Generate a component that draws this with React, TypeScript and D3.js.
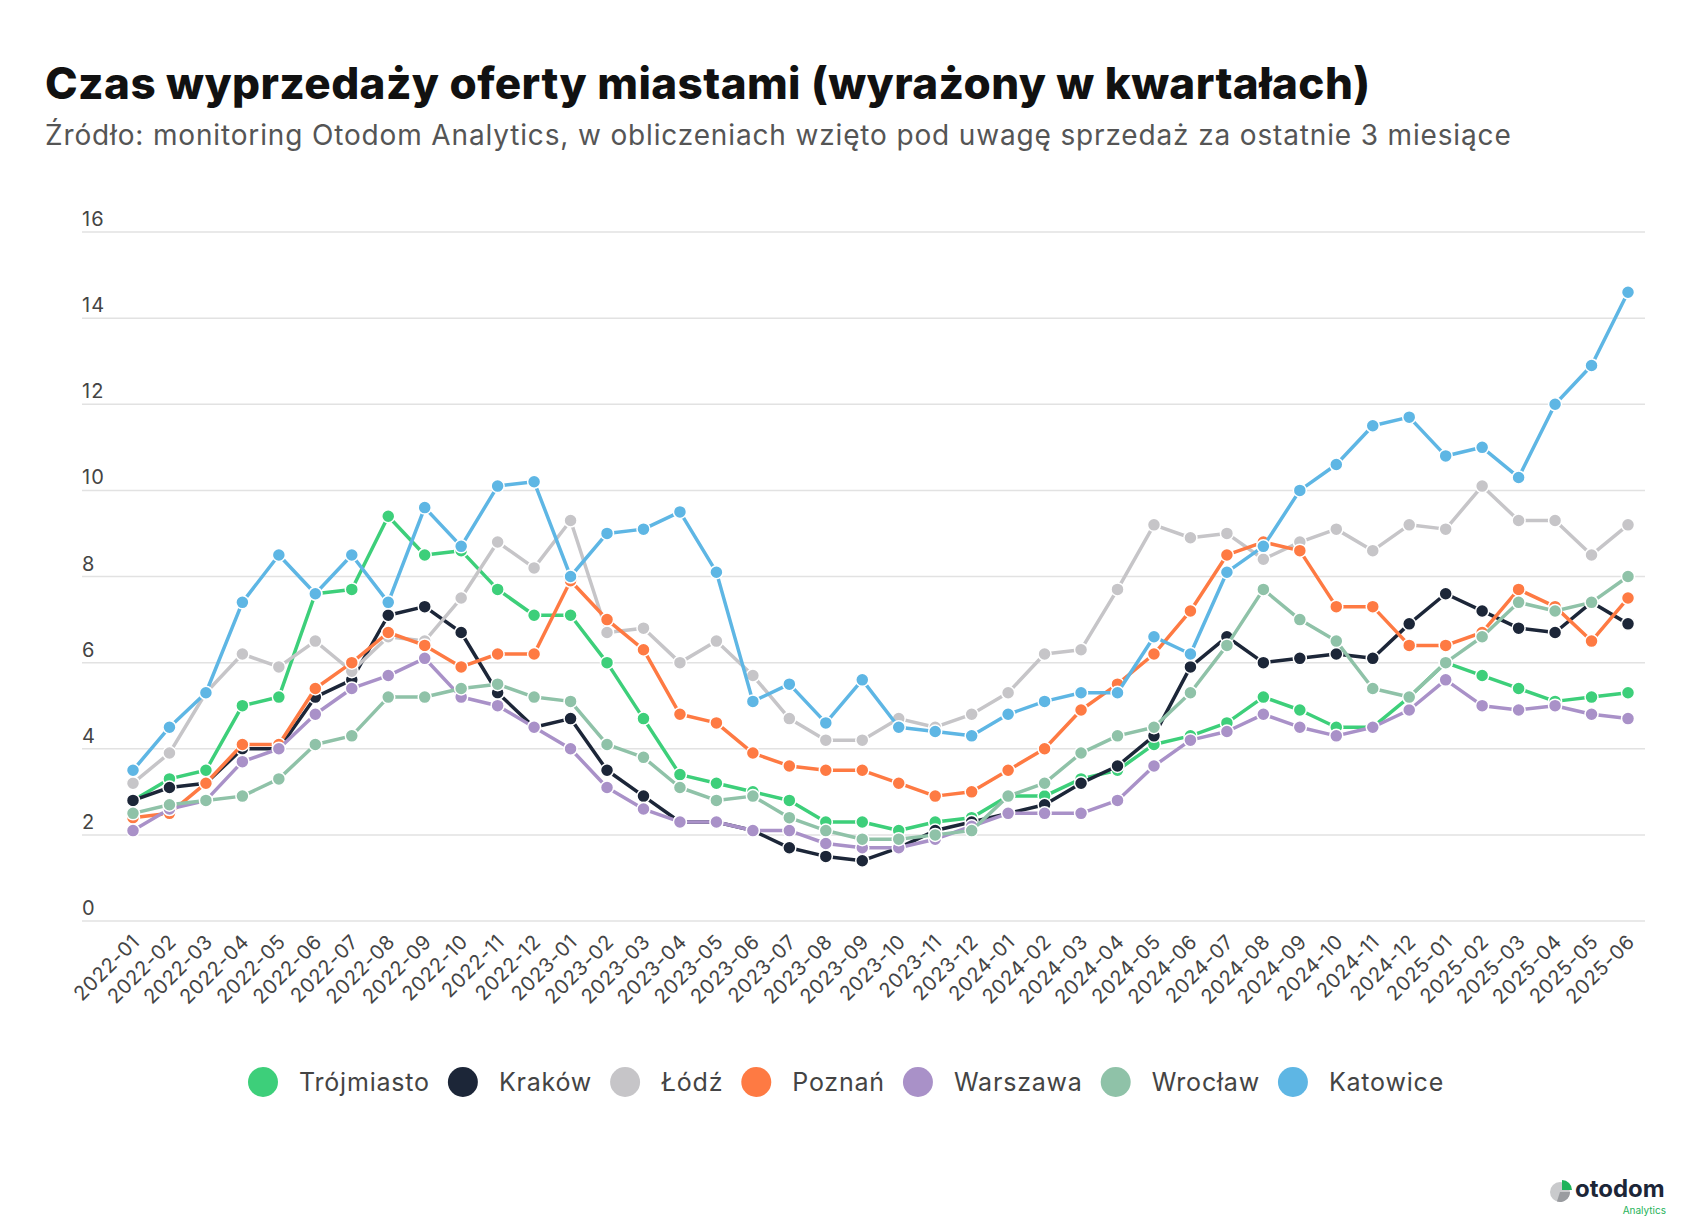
import { useEffect, useRef } from 'react';
import * as d3 from 'd3';

const months = [
  '2022-01', '2022-02', '2022-03', '2022-04', '2022-05', '2022-06', '2022-07', '2022-08', '2022-09', '2022-10', '2022-11', '2022-12',
  '2023-01', '2023-02', '2023-03', '2023-04', '2023-05', '2023-06', '2023-07', '2023-08', '2023-09', '2023-10', '2023-11', '2023-12',
  '2024-01', '2024-02', '2024-03', '2024-04', '2024-05', '2024-06', '2024-07', '2024-08', '2024-09', '2024-10', '2024-11', '2024-12',
  '2025-01', '2025-02', '2025-03', '2025-04', '2025-05', '2025-06',
];

const trojmiasto = [
  2.8, 3.3, 3.5, 5.0, 5.2, 7.6, 7.7, 9.4, 8.5, 8.6, 7.7, 7.1,
  7.1, 6.0, 4.7, 3.4, 3.2, 3.0, 2.8, 2.3, 2.3, 2.1, 2.3, 2.4,
  2.9, 2.9, 3.3, 3.5, 4.1, 4.3, 4.6, 5.2, 4.9, 4.5, 4.5, 5.2,
  6.0, 5.7, 5.4, 5.1, 5.2, 5.3,
];
const krakow = [
  2.8, 3.1, 3.2, 4.0, 4.0, 5.2, 5.6, 7.1, 7.3, 6.7, 5.3, 4.5,
  4.7, 3.5, 2.9, 2.3, 2.3, 2.1, 1.7, 1.5, 1.4, 1.7, 2.1, 2.3,
  2.5, 2.7, 3.2, 3.6, 4.3, 5.9, 6.6, 6.0, 6.1, 6.2, 6.1, 6.9,
  7.6, 7.2, 6.8, 6.7, 7.4, 6.9,
];
const lodz = [
  3.2, 3.9, 5.3, 6.2, 5.9, 6.5, 5.8, 6.6, 6.5, 7.5, 8.8, 8.2,
  9.3, 6.7, 6.8, 6.0, 6.5, 5.7, 4.7, 4.2, 4.2, 4.7, 4.5, 4.8,
  5.3, 6.2, 6.3, 7.7, 9.2, 8.9, 9.0, 8.4, 8.8, 9.1, 8.6, 9.2,
  9.1, 10.1, 9.3, 9.3, 8.5, 9.2,
];
const poznan = [
  2.4, 2.5, 3.2, 4.1, 4.1, 5.4, 6.0, 6.7, 6.4, 5.9, 6.2, 6.2,
  7.9, 7.0, 6.3, 4.8, 4.6, 3.9, 3.6, 3.5, 3.5, 3.2, 2.9, 3.0,
  3.5, 4.0, 4.9, 5.5, 6.2, 7.2, 8.5, 8.8, 8.6, 7.3, 7.3, 6.4,
  6.4, 6.7, 7.7, 7.3, 6.5, 7.5,
];
const warszawa = [
  2.1, 2.6, 2.8, 3.7, 4.0, 4.8, 5.4, 5.7, 6.1, 5.2, 5.0, 4.5,
  4.0, 3.1, 2.6, 2.3, 2.3, 2.1, 2.1, 1.8, 1.7, 1.7, 1.9, 2.2,
  2.5, 2.5, 2.5, 2.8, 3.6, 4.2, 4.4, 4.8, 4.5, 4.3, 4.5, 4.9,
  5.6, 5.0, 4.9, 5.0, 4.8, 4.7,
];
const wroclaw = [
  2.5, 2.7, 2.8, 2.9, 3.3, 4.1, 4.3, 5.2, 5.2, 5.4, 5.5, 5.2,
  5.1, 4.1, 3.8, 3.1, 2.8, 2.9, 2.4, 2.1, 1.9, 1.9, 2.0, 2.1,
  2.9, 3.2, 3.9, 4.3, 4.5, 5.3, 6.4, 7.7, 7.0, 6.5, 5.4, 5.2,
  6.0, 6.6, 7.4, 7.2, 7.4, 8.0,
];
const katowice = [
  3.5, 4.5, 5.3, 7.4, 8.5, 7.6, 8.5, 7.4, 9.6, 8.7, 10.1, 10.2,
  8.0, 9.0, 9.1, 9.5, 8.1, 5.1, 5.5, 4.6, 5.6, 4.5, 4.4, 4.3,
  4.8, 5.1, 5.3, 5.3, 6.6, 6.2, 8.1, 8.7, 10.0, 10.6, 11.5, 11.7,
  10.8, 11.0, 10.3, 12.0, 12.9, 14.6,
];

const cityNames = ['Trójmiasto', 'Kraków', 'Łódź', 'Poznań', 'Warszawa', 'Wrocław', 'Katowice'];
const cityColors = ['#3dcf7a', '#1c2638', '#c6c5c8', '#fe7a43', '#a991c8', '#8fc2a8', '#5eb6e4'];
const cityValues = [trojmiasto, krakow, lodz, poznan, warszawa, wroclaw, katowice];
const yTicks = [0, 2, 4, 6, 8, 10, 12, 14, 16];

const FONT = 'Inter, "Noto Sans", sans-serif';

export default function App() {
  const ref = useRef<SVGSVGElement>(null);

  useEffect(() => {
    const svgElement = ref.current;
    if (!svgElement) return;
    const svg = d3.select(svgElement);
    svg.selectAll('*').remove();

    const width = 1696;
    const height = 1226;
    const margin = { top: 232, bottom: 921, left: 133, right: 1628 };

    svg.append('rect').attr('width', width).attr('height', height).attr('fill', '#ffffff');

    svg
      .append('text')
      .attr('x', 45)
      .attr('y', 99)
      .attr('font-family', FONT)
      .attr('font-weight', 800)
      .attr('font-size', 44)
      .attr('letter-spacing', 0.4)
      .attr('fill', '#111111')
      .text('Czas wyprzedaży oferty miastami (wyrażony w kwartałach)');

    svg
      .append('text')
      .attr('x', 45)
      .attr('y', 145)
      .attr('font-family', FONT)
      .attr('font-size', 28)
      .attr('letter-spacing', 0.85)
      .attr('fill', '#555555')
      .text('Źródło: monitoring Otodom Analytics, w obliczeniach wzięto pod uwagę sprzedaż za ostatnie 3 miesiące');

    const x = d3.scalePoint<string>().domain(months).range([margin.left, margin.right]);
    const y = d3.scaleLinear().domain([0, 16]).range([margin.bottom, margin.top]);

    const grid = svg.append('g');
    grid
      .selectAll('line')
      .data(yTicks)
      .join('line')
      .attr('x1', 82)
      .attr('x2', 1645)
      .attr('y1', (d) => y(d))
      .attr('y2', (d) => y(d))
      .attr('stroke', '#e2e2e2')
      .attr('stroke-width', 1.5);
    grid
      .selectAll('text')
      .data(yTicks)
      .join('text')
      .attr('x', 82)
      .attr('y', (d) => y(d) - 6)
      .attr('font-family', FONT)
      .attr('font-size', 20)
      .attr('letter-spacing', 1)
      .attr('fill', '#444444')
      .text((d) => String(d));

    svg
      .append('g')
      .selectAll('text')
      .data(months)
      .join('text')
      .attr('transform', (m) => `translate(${(x(m) ?? 0) + 8},${margin.bottom + 22}) rotate(-45)`)
      .attr('text-anchor', 'end')
      .attr('font-family', FONT)
      .attr('font-size', 20)
      .attr('letter-spacing', 0.6)
      .attr('fill', '#444444')
      .text((m) => m);

    const line = d3
      .line<number>()
      .x((_d, i) => x(months[i]) ?? 0)
      .y((d) => y(d));

    cityValues.forEach((values, k) => {
      const g = svg.append('g');
      g.append('path')
        .attr('d', line(values))
        .attr('fill', 'none')
        .attr('stroke', cityColors[k])
        .attr('stroke-width', 3.5)
        .attr('stroke-linejoin', 'round');
      g.selectAll('circle')
        .data(values)
        .join('circle')
        .attr('cx', (_d, i) => x(months[i]) ?? 0)
        .attr('cy', (d) => y(d))
        .attr('r', 6.5)
        .attr('fill', cityColors[k])
        .attr('stroke', '#ffffff')
        .attr('stroke-width', 1.5);
    });

    // legend, centred under the plot
    const legend = svg.append('g');
    const items = legend
      .selectAll('g')
      .data(cityNames)
      .join('g');
    items
      .append('circle')
      .attr('r', 15)
      .attr('fill', (_d, i) => cityColors[i]);
    items
      .append('text')
      .attr('x', 36)
      .attr('y', 9)
      .attr('font-family', FONT)
      .attr('font-size', 25)
      .attr('letter-spacing', 0.8)
      .attr('fill', '#444444')
      .text((d) => d);
    const gap = 33;
    let offset = 0;
    const positions: number[] = [];
    items.each(function () {
      const t = (this as SVGGElement).querySelector('text') as SVGTextElement;
      positions.push(offset);
      offset += 36 + t.getComputedTextLength() + gap;
    });
    const total = offset - gap + 15;
    const start = 846 - total / 2 + 15;
    items.attr('transform', (_d, i) => `translate(${start + positions[i]},1082)`);

    // logo
    const logo = svg.append('g').attr('transform', 'translate(1560,1192)');
    logo.append('circle').attr('r', 10).attr('fill', '#c9cacc');
    logo
      .append('path')
      .attr('d', d3.arc()({ innerRadius: 0, outerRadius: 10, startAngle: Math.PI / 2, endAngle: Math.PI * 1.1 }) ?? '')
      .attr('fill', '#9a9ca0');
    logo
      .append('path')
      .attr('transform', 'translate(2,-2)')
      .attr('d', d3.arc()({ innerRadius: 0, outerRadius: 10, startAngle: 0, endAngle: Math.PI / 2 }) ?? '')
      .attr('fill', '#1fb35a');
    svg
      .append('text')
      .attr('x', 1575)
      .attr('y', 1197)
      .attr('font-family', FONT)
      .attr('font-weight', 700)
      .attr('font-size', 24)
      .attr('fill', '#1c2638')
      .text('otodom');
    svg
      .append('text')
      .attr('x', 1666)
      .attr('y', 1214)
      .attr('text-anchor', 'end')
      .attr('font-family', FONT)
      .attr('font-size', 10)
      .attr('fill', '#1fb35a')
      .text('Analytics');
  }, []);

  return (
    <svg
      ref={ref}
      width={1696}
      height={1226}
      style={{ position: 'absolute', left: 0, top: 0, display: 'block' }}
    />
  );
}
